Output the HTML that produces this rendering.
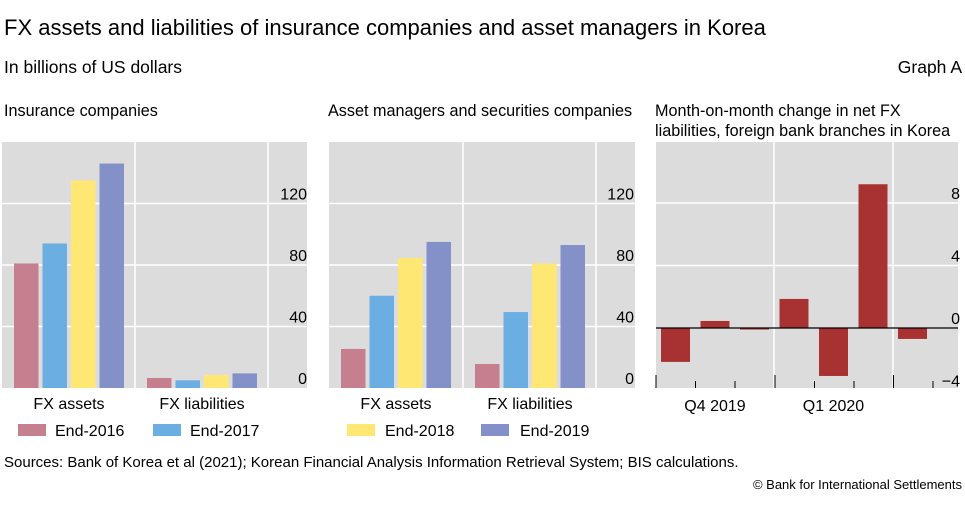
<!DOCTYPE html>
<html><head><meta charset="utf-8"><style>
body{margin:0;width:965px;height:500px;background:#fff;font-family:"Liberation Sans",sans-serif;overflow:hidden}
svg text{font-family:"Liberation Sans",sans-serif;fill:#000}
</style></head><body>
<svg id="c" width="965" height="500" xmlns="http://www.w3.org/2000/svg">
<text x="4" y="35" font-size="22">FX assets and liabilities of insurance companies and asset managers in Korea</text>
<text x="4" y="73" font-size="17.5">In billions of US dollars</text>
<text x="962" y="73" font-size="17.5" text-anchor="end">Graph A</text>
<text x="4" y="116" font-size="16.2">Insurance companies</text>
<text x="328" y="116" font-size="16.2">Asset managers and securities companies</text>
<text x="655" y="116" font-size="16.2">Month-on-month change in net FX</text>
<text x="655" y="136" font-size="16.2">liabilities, foreign bank branches in Korea</text>
<text x="4" y="467" font-size="15">Sources: Bank of Korea et al (2021); Korean Financial Analysis Information Retrieval System; BIS calculations.</text>
<text x="962" y="489" font-size="13" text-anchor="end">© Bank for International Settlements</text>
</svg>
<script>
const categories=["FX assets","FX liabilities"];
const seriesNames=["End-2016","End-2017","End-2018","End-2019"];
const insurance2016=[81,6.5];
const insurance2017=[94,5];
const insurance2018=[135,8.5];
const insurance2019=[146,9.5];
const asset2016=[25.4,15.6];
const asset2017=[60,49.4];
const asset2018=[84.6,81];
const asset2019=[95,93];
const leftTicks=[0,40,80,120];
const fxMonths=["Oct 2019","Nov 2019","Dec 2019","Jan 2020","Feb 2020","Mar 2020","Apr 2020"];
const fxChange=[-2.17,0.45,-0.1,1.86,-3.07,9.2,-0.7];
const rightTicks=[-4,0,4,8];
const quarterLabels=["Q4 2019","Q1 2020"];
const colors=["#c57f8e","#6aaee2","#fee773","#8490c8"];
const svg=document.getElementById('c');
const NS="http://www.w3.org/2000/svg";
function mk(t,a,p){const e=document.createElementNS(NS,t);for(const k in a)e.setAttribute(k,a[k]);(p||svg).appendChild(e);return e;}
const TOP=142,BOT=388;
function yL(v){return 388-v*61.5/40;}
function yR(v){return 328-v*62.5/4;}
function panel(x0,x1,vg,series,pname,tickX){
  const bg=mk('rect',{x:x0,y:TOP,width:x1-x0,height:BOT-TOP,fill:'#dcdcdc'});
  
  
  leftTicks.forEach(t=>{if(t>0){const l=mk('line',{x1:x0,x2:x1,y1:yL(t),y2:yL(t),stroke:'#fff','stroke-width':1.5});
    
    }
    const tx=mk('text',{x:tickX,y:yL(t)-4,'font-size':16,'text-anchor':'end'});tx.textContent=t;
    
    });
  vg.forEach(x=>{const l=mk('line',{x1:x,x2:x,y1:TOP,y2:BOT,stroke:'#fff','stroke-width':1.5});
    
    });
  const groupStart=[x0+12,vg[0]+12];
  categories.forEach((c,ci)=>{
    series.forEach((s,si)=>{const v=s[ci];const y=yL(v);
      const b=mk('rect',{x:groupStart[ci]+si*28.5,y:y,width:24.5,height:yL(0)-y,fill:colors[si]});
      
      });
    const t=mk('text',{x:groupStart[ci]+55,y:409,'font-size':16,'text-anchor':'middle'});t.textContent=c;
    
    
  });
}
panel(2,307,[135,268],[insurance2016,insurance2017,insurance2018,insurance2019],'insurance',307);
panel(329,635,[463,596],[asset2016,asset2017,asset2018,asset2019],'asset-managers',634);
[[18,55,0],[153,190,1],[347,385,2],[481,520,3]].forEach(([sx,tx,i])=>{
  const r=mk('rect',{x:sx,y:424,width:28,height:12,fill:colors[i]});
  
  
  const t=mk('text',{x:tx,y:436,'font-size':16});t.textContent=seriesNames[i];
  
  
});
const px0=656,px1=958;
const bg3=mk('rect',{x:px0,y:TOP,width:px1-px0,height:BOT-TOP,fill:'#dcdcdc'});


rightTicks.forEach(t=>{if(t>0){const l=mk('line',{x1:px0,x2:px1,y1:yR(t),y2:yR(t),stroke:'#fff','stroke-width':1.5});
  
  }
  const tx=mk('text',{x:960,y:yR(t)-4,'font-size':16,'text-anchor':'end'});tx.textContent=t<0?'\u2212'+(-t):t;
  
  });
const step=39.5;
[774,893].forEach(x=>{const l=mk('line',{x1:x,x2:x,y1:TOP,y2:BOT,stroke:'#fff','stroke-width':1.5});
  
  });
fxChange.forEach((v,i)=>{const y=yR(Math.max(v,0));const h=Math.abs(yR(v)-yR(0));
  const b=mk('rect',{x:px0+5+i*step,y:y,width:29,height:h,fill:'#a83232'});
  
  });
const z=mk('line',{x1:px0,x2:px1,y1:yR(0),y2:yR(0),stroke:'#000','stroke-width':1.2});


for(let i=0;i<8;i++){const x=px0+i*step+(i>=3?0.5:0);const major=i%3===0;
  const l=mk('line',{x1:x,x2:x,y1:major?375:381,y2:BOT,stroke:'#000','stroke-width':1});
  
  }
quarterLabels.forEach((q,i)=>{const t=mk('text',{x:px0+59+i*118.5,y:411,'font-size':16,'text-anchor':'middle'});t.textContent=q;
  
  });
</script>
</body></html>
